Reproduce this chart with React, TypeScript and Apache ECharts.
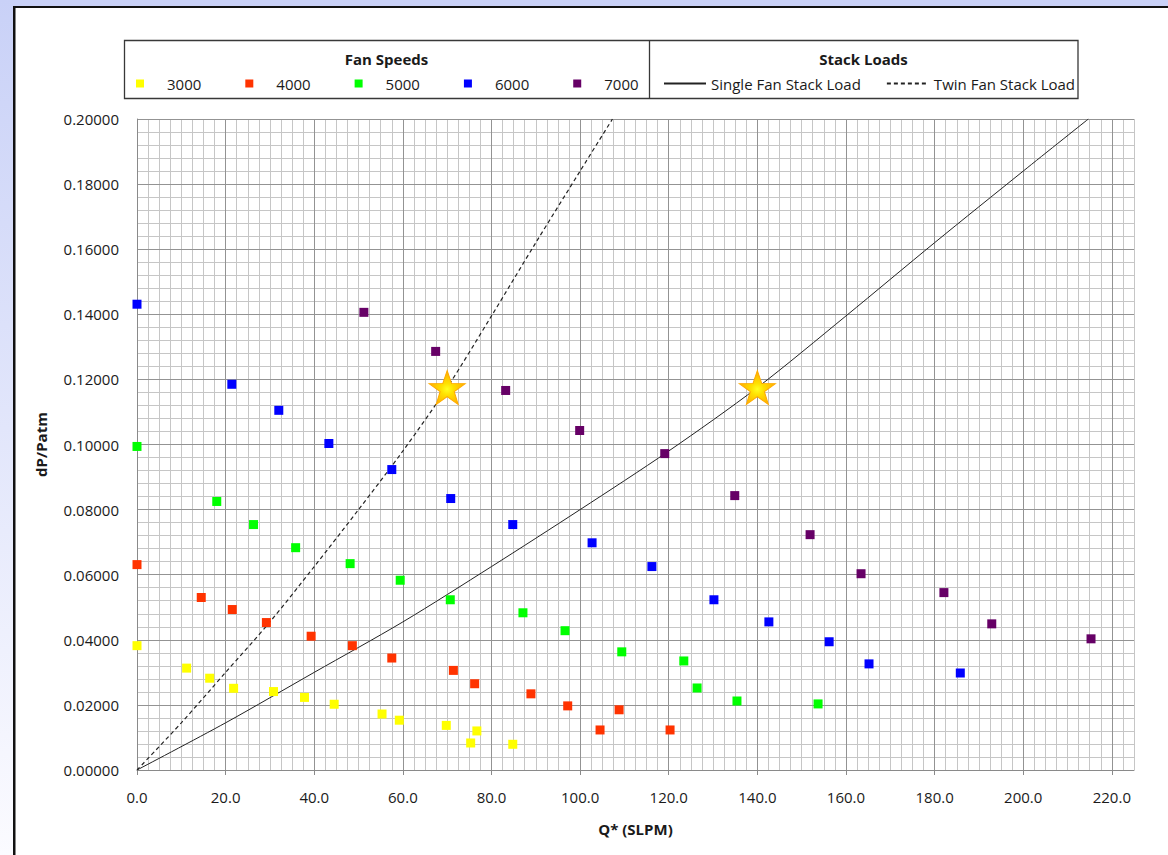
import React, { useEffect, useRef } from "react";
import * as echarts from "echarts";

const FONT = '"Open Sans", "Liberation Sans", sans-serif';
const TEXT = "#1a1a1a";

// Fan speed series: [Q* (SLPM), dP/Patm]
const speed3000 = [
  [0, 0.0382], [11.2, 0.0313], [16.4, 0.0282], [21.8, 0.0251], [30.8, 0.0241],
  [37.8, 0.0223], [44.5, 0.0202], [55.3, 0.0172], [59.2, 0.0153], [69.8, 0.0137],
  [75.3, 0.0083], [76.7, 0.012], [84.8, 0.0079],
];
const speed4000 = [
  [0, 0.0631], [14.5, 0.053], [21.5, 0.0493], [29.2, 0.0453], [39.3, 0.0411],
  [48.6, 0.0382], [57.5, 0.0344], [71.4, 0.0306], [76.2, 0.0265], [88.9, 0.0234],
  [97.2, 0.0197], [104.5, 0.0123], [108.8, 0.0185], [120.3, 0.0123],
];
const speed5000 = [
  [0, 0.0994], [18, 0.0825], [26.3, 0.0754], [35.8, 0.0683], [48.1, 0.0634],
  [59.4, 0.0583], [70.7, 0.0523], [87.1, 0.0483], [96.6, 0.0428], [109.4, 0.0363],
  [123.4, 0.0335], [126.4, 0.0252], [135.4, 0.0212], [153.7, 0.0203],
];
const speed6000 = [
  [0, 0.1431], [21.4, 0.1185], [32.0, 0.1105], [43.3, 0.1003], [57.5, 0.0923],
  [70.8, 0.0834], [84.8, 0.0754], [102.7, 0.0698], [116.2, 0.0625], [130.2, 0.0523],
  [142.6, 0.0455], [156.2, 0.0394], [165.2, 0.0326], [185.8, 0.0298],
];
const speed7000 = [
  [51.2, 0.1406], [67.4, 0.1286], [83.2, 0.1166], [99.9, 0.1043], [119.1, 0.0972],
  [134.9, 0.0843], [151.9, 0.0723], [163.4, 0.0603], [182.1, 0.0545], [192.9, 0.0449],
  [215.3, 0.0403],
];

// Stack load curves
const singleFan = [
  [0, 0], [20, 0.0145], [40, 0.03], [60, 0.0455], [80, 0.0625], [100, 0.08],
  [120, 0.098], [140, 0.1175], [160, 0.1395], [180, 0.162], [200, 0.184], [214.7, 0.2],
];
const twinFan = [
  [0, 0], [10, 0.0145], [20, 0.03], [30, 0.0455], [40, 0.0625], [50, 0.08],
  [60, 0.098], [70, 0.1175], [80, 0.1395], [90, 0.162], [100, 0.184], [107.3, 0.2],
];

// Operating points (stars)
const operatingPoints = [[70, 0.1175], [140, 0.1175]];

const fanSpeeds = ["3000", "4000", "5000", "6000", "7000"];
const fanColors = ["#ffff00", "#ff3300", "#00ff00", "#0000ff", "#660066"];
const fanData = [speed3000, speed4000, speed5000, speed6000, speed7000];
const stackLoads = ["Single Fan Stack Load", "Twin Fan Stack Load"];

const xTicks = [0, 20, 40, 60, 80, 100, 120, 140, 160, 180, 200, 220];

const STAR =
  "path://M50,0 L61.8,35.1 L98.1,35.1 L68.8,56.7 L79.4,91.2 L50,70 L20.6,91.2 L31.2,56.7 L1.9,35.1 L38.2,35.1 Z";

export default function App() {
  const ref = useRef<HTMLDivElement>(null);

  useEffect(() => {
    const chart = echarts.init(ref.current!, null, { renderer: "svg" });

    const labelStyle = { fontFamily: FONT, fontSize: 15, color: TEXT };

    const option: any = {
      animation: false,
      backgroundColor: "#ffffff",
      textStyle: { fontFamily: FONT },
      grid: { left: 137, top: 119, width: 997, height: 651, containLabel: false },
      legend: [
        {
          data: fanSpeeds,
          left: 136,
          top: 76,
          padding: 0,
          icon: "rect",
          itemWidth: 8,
          itemHeight: 8,
          itemGap: 44,
          selectedMode: false,
          itemStyle: { opacity: 1 },
          textStyle: { ...labelStyle, padding: [0, 0, 0, 18] },
        },
        {
          data: stackLoads,
          left: 663,
          top: 76,
          padding: 0,
          itemWidth: 42,
          itemHeight: 8,
          itemGap: 25,
          selectedMode: false,
          itemStyle: { opacity: 0, color: "transparent", borderWidth: 0 },
          textStyle: { ...labelStyle },
        },
      ],
      xAxis: [
        {
          type: "value",
          min: 0,
          max: 225,
          interval: 20,
          z: 1,
          name: "Q* (SLPM)",
          nameLocation: "middle",
          nameGap: 51,
          nameTextStyle: { fontFamily: FONT, fontSize: 15, fontWeight: "bold", color: TEXT },
          axisLine: { show: true, lineStyle: { color: "#8a8a8a", width: 1 } },
          axisTick: {
            show: true,
            length: 5,
            customValues: xTicks,
            lineStyle: { color: "#8a8a8a" },
          },
          axisLabel: {
            ...labelStyle,
            margin: 19,
            customValues: xTicks,
            formatter: (v: number) => v.toFixed(1),
          },
          splitLine: { show: true, lineStyle: { color: "#939393", width: 1 } },
        },
        {
          type: "value",
          min: 0,
          max: 225,
          interval: 2.5,
          z: 0,
          position: "bottom",
          axisLine: { show: false },
          axisTick: { show: false },
          axisLabel: { show: false },
          splitLine: { show: true, lineStyle: { color: "#c6c6c6", width: 1 } },
        },
      ],
      yAxis: [
        {
          type: "value",
          min: 0,
          max: 0.2,
          interval: 0.02,
          z: 1,
          name: "dP/Patm",
          nameLocation: "middle",
          nameGap: 89,
          nameTextStyle: { fontFamily: FONT, fontSize: 15, fontWeight: "bold", color: TEXT },
          axisLine: { show: true, lineStyle: { color: "#8a8a8a", width: 1 } },
          axisTick: { show: false },
          axisLabel: {
            ...labelStyle,
            margin: 18,
            formatter: (v: number) => v.toFixed(5),
          },
          splitLine: { show: true, lineStyle: { color: "#939393", width: 1 } },
        },
        {
          type: "value",
          min: 0,
          max: 0.2,
          interval: 0.004,
          z: 0,
          position: "left",
          axisLine: { show: false },
          axisTick: { show: false },
          axisLabel: { show: false },
          splitLine: { show: true, lineStyle: { color: "#c6c6c6", width: 1 } },
        },
      ],
      series: [
        {
          name: stackLoads[0],
          type: "line",
          data: singleFan,
          symbol: "none",
          smooth: 0.3,
          xAxisIndex: 0,
          yAxisIndex: 0,
          z: 3,
          color: "#222222",
          lineStyle: { color: "#222222", width: 1, type: "solid" },
        },
        {
          name: stackLoads[1],
          type: "line",
          data: twinFan,
          symbol: "none",
          smooth: 0.3,
          xAxisIndex: 0,
          yAxisIndex: 0,
          z: 3,
          color: "#222222",
          lineStyle: { color: "#222222", width: 1.2, type: [4, 3] },
        },
        ...fanSpeeds.map((name, i) => ({
          name,
          type: "scatter",
          data: fanData[i],
          symbol: "rect",
          symbolSize: 9,
          xAxisIndex: 0,
          yAxisIndex: 0,
          z: 4,
          clip: false,
          itemStyle: { color: fanColors[i], opacity: 1 },
        })),
        {
          name: "Operating Point",
          type: "scatter",
          data: operatingPoints,
          symbol: STAR,
          symbolSize: [36, 34],
          xAxisIndex: 0,
          yAxisIndex: 0,
          z: 5,
          itemStyle: {
            opacity: 1,
            color: new echarts.graphic.RadialGradient(0.5, 0.55, 0.5, [
              { offset: 0, color: "#ffff20" },
              { offset: 0.35, color: "#ffe000" },
              { offset: 1, color: "#ffb000" },
            ]),
            borderColor: "#ffaa00",
            borderWidth: 1,
          },
        },
      ],
      graphic: [
        {
          type: "rect",
          z: -10,
          shape: { x: 0, y: 0, width: 1168, height: 7 },
          style: { fill: "#c9d1f7" },
          silent: true,
        },
        {
          type: "rect",
          z: -10,
          shape: { x: 0, y: 0, width: 13, height: 855 },
          style: {
            fill: new echarts.graphic.LinearGradient(0, 0, 0, 1, [
              { offset: 0, color: "#c9d1f7" },
              { offset: 1, color: "#fbfbff" },
            ]),
          },
          silent: true,
        },
        {
          type: "rect",
          z: -9,
          shape: { x: 13, y: 6, width: 1155, height: 2 },
          style: { fill: "#111111" },
          silent: true,
        },
        {
          type: "rect",
          z: -9,
          shape: { x: 13, y: 6, width: 2.5, height: 849 },
          style: { fill: "#111111" },
          silent: true,
        },
        {
          type: "rect",
          z: -5,
          shape: { x: 124.5, y: 40.5, width: 953.5, height: 58 },
          style: { fill: "#ffffff", stroke: "#383838", lineWidth: 1.3 },
          silent: true,
        },
        {
          type: "line",
          z: -4,
          shape: { x1: 649.5, y1: 40.5, x2: 649.5, y2: 98.5 },
          style: { stroke: "#383838", lineWidth: 1.3 },
          silent: true,
        },
        {
          type: "text",
          z: 10,
          x: 386.5,
          y: 59,
          style: {
            text: "Fan Speeds",
            fontFamily: FONT,
            fontSize: 15,
            fontWeight: "bold",
            fill: TEXT,
            align: "center",
            verticalAlign: "middle",
          },
        },
        {
          type: "text",
          z: 10,
          x: 863.5,
          y: 59,
          style: {
            text: "Stack Loads",
            fontFamily: FONT,
            fontSize: 15,
            fontWeight: "bold",
            fill: TEXT,
            align: "center",
            verticalAlign: "middle",
          },
        },
      ],
    };

    chart.setOption(option);
    return () => chart.dispose();
  }, []);

  return (
    <div
      ref={ref}
      style={{ position: "absolute", left: 0, top: 0, width: 1168, height: 855 }}
    />
  );
}
